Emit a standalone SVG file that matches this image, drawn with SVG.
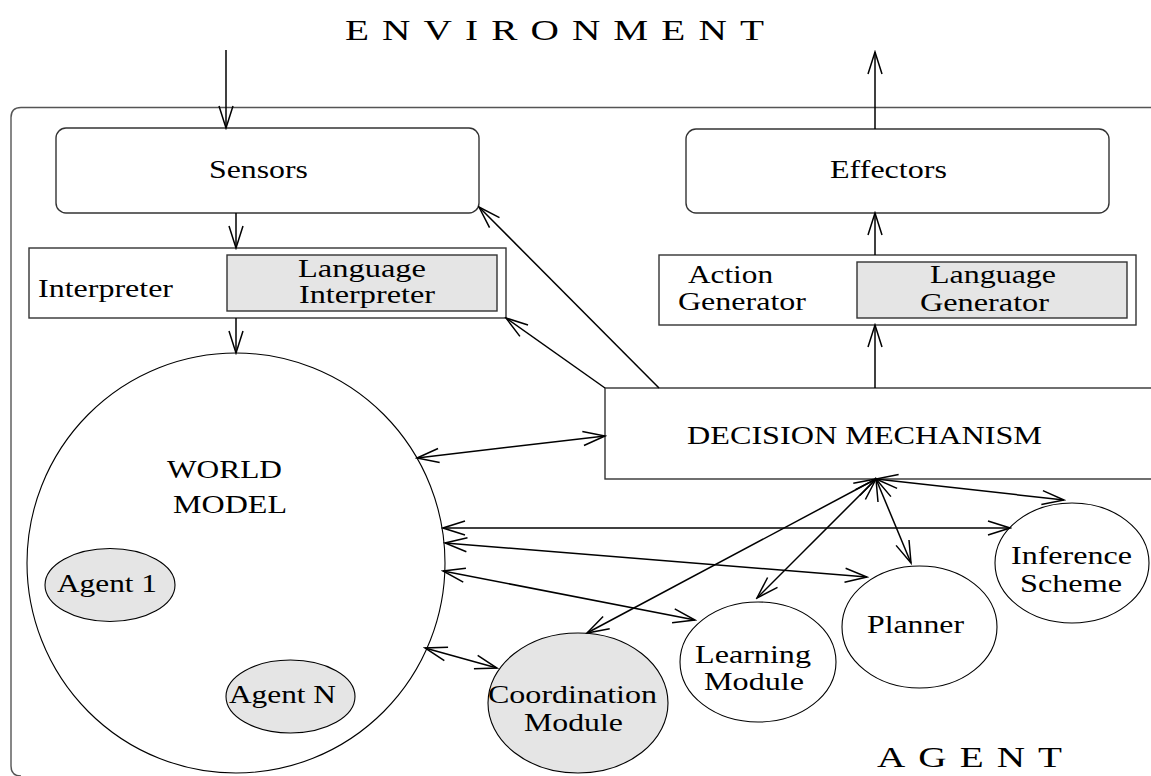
<svg xmlns="http://www.w3.org/2000/svg" width="1151" height="776" viewBox="0 0 1151 776">
<style>
text{font-family:"Liberation Serif","Times New Roman","DejaVu Serif",serif;font-size:25px;fill:#000}
.big{font-size:30px;letter-spacing:10px}
.box{fill:#fff;stroke:#333;stroke-width:1.4}
.gray{fill:#e5e5e5;stroke:#333;stroke-width:1.4}
.ell{fill:#fff;stroke:#000;stroke-width:1.1}
.gell{fill:#e5e5e5;stroke:#000;stroke-width:1.1}
.c{fill:none;stroke:#000;stroke-width:1.5}
</style>
<defs>
<marker id="ah" viewBox="-24 -9 26 18" refX="0" refY="0" markerWidth="26" markerHeight="18" markerUnits="userSpaceOnUse" orient="auto-start-reverse">
<path d="M-22,-7 L0,0 L-22,7" fill="none" stroke="#000" stroke-width="1.5"/>
</marker>
</defs>
<rect width="1151" height="776" fill="#fff"/>
<g id="environment-label"><text class="big" x="345" y="40" textLength="432" lengthAdjust="spacingAndGlyphs" font-family="Liberation Serif">ENVIRONMENT</text></g>
<g id="agent-frame">
<path d="M1160,107.5 H21 Q11,107.5 11,117.5 V766 Q11,776 21,776" fill="none" stroke="#555" stroke-width="1.4"/>
<text class="big" x="877" y="767" textLength="198" lengthAdjust="spacingAndGlyphs" font-family="Liberation Serif">AGENT</text>
</g>
<g id="sensors">
<rect class="box" x="56" y="128" width="423" height="85" rx="10"/>
<text x="209" y="178" textLength="99" lengthAdjust="spacingAndGlyphs">Sensors</text>
</g>
<g id="effectors">
<rect class="box" x="686" y="129" width="423" height="84" rx="10"/>
<text x="830" y="178" textLength="117" lengthAdjust="spacingAndGlyphs">Effectors</text>
</g>
<g id="interpreter">
<rect class="box" x="29" y="248" width="477" height="70"/>
<text x="38" y="297" textLength="135" lengthAdjust="spacingAndGlyphs">Interpreter</text>
</g>
<g id="language-interpreter">
<rect class="gray" x="227" y="255" width="270" height="56"/>
<text x="298" y="277" textLength="128" lengthAdjust="spacingAndGlyphs">Language</text>
<text x="299" y="303" textLength="136" lengthAdjust="spacingAndGlyphs">Interpreter</text>
</g>
<g id="action-generator">
<rect class="box" x="659" y="255" width="477" height="70"/>
<text x="688" y="283" textLength="85" lengthAdjust="spacingAndGlyphs">Action</text>
<text x="678" y="310" textLength="128" lengthAdjust="spacingAndGlyphs">Generator</text>
</g>
<g id="language-generator">
<rect class="gray" x="857" y="262" width="270" height="56"/>
<text x="930" y="283" textLength="126" lengthAdjust="spacingAndGlyphs">Language</text>
<text x="920" y="311" textLength="129" lengthAdjust="spacingAndGlyphs">Generator</text>
</g>
<g id="decision-mechanism">
<rect class="box" x="605" y="388" width="560" height="91"/>
<text x="687" y="444" textLength="355" lengthAdjust="spacingAndGlyphs">DECISION MECHANISM</text>
</g>
<g id="world-model">
<ellipse class="ell" cx="236" cy="563" rx="209" ry="210"/>
<text x="167" y="478" textLength="115" lengthAdjust="spacingAndGlyphs">WORLD</text>
<text x="173" y="513" textLength="114" lengthAdjust="spacingAndGlyphs">MODEL</text>
</g>
<g id="agent-1">
<ellipse class="gell" cx="110" cy="585" rx="65" ry="36.5"/>
<text x="57" y="592" textLength="100" lengthAdjust="spacingAndGlyphs">Agent 1</text>
</g>
<g id="agent-n">
<ellipse class="gell" cx="290.5" cy="696.5" rx="64.5" ry="36.5"/>
<text x="229" y="703" textLength="107" lengthAdjust="spacingAndGlyphs">Agent N</text>
</g>
<g id="coordination-module">
<ellipse class="gell" cx="578" cy="703" rx="90" ry="70"/>
<text x="488" y="703" textLength="169" lengthAdjust="spacingAndGlyphs">Coordination</text>
<text x="524" y="731" textLength="99" lengthAdjust="spacingAndGlyphs">Module</text>
</g>
<g id="learning-module">
<ellipse class="ell" cx="758" cy="662" rx="78" ry="60"/>
<text x="695" y="663" textLength="116" lengthAdjust="spacingAndGlyphs">Learning</text>
<text x="704" y="690" textLength="100" lengthAdjust="spacingAndGlyphs">Module</text>
</g>
<g id="planner">
<ellipse class="ell" cx="919.5" cy="627" rx="77.5" ry="61"/>
<text x="867" y="633" textLength="97" lengthAdjust="spacingAndGlyphs">Planner</text>
</g>
<g id="inference-scheme">
<ellipse class="ell" cx="1072" cy="563" rx="77" ry="60"/>
<text x="1011" y="564" textLength="121" lengthAdjust="spacingAndGlyphs">Inference</text>
<text x="1020" y="592" textLength="102" lengthAdjust="spacingAndGlyphs">Scheme</text>
</g>
<g id="connectors" class="c">
<line class="c" x1="226" y1="50" x2="226" y2="128" marker-end="url(#ah)"/>
<line class="c" x1="875" y1="129" x2="875" y2="52" marker-end="url(#ah)"/>
<line class="c" x1="236" y1="213" x2="236" y2="248" marker-end="url(#ah)"/>
<line class="c" x1="236" y1="318" x2="236" y2="353" marker-end="url(#ah)"/>
<line class="c" x1="875" y1="255" x2="875" y2="213" marker-end="url(#ah)"/>
<line class="c" x1="875" y1="388" x2="875" y2="325" marker-end="url(#ah)"/>
<line class="c" x1="659" y1="388" x2="479" y2="207" marker-end="url(#ah)"/>
<line class="c" x1="605" y1="388" x2="506" y2="318" marker-end="url(#ah)"/>
<line class="c" x1="417" y1="458" x2="605" y2="436" marker-start="url(#ah)" marker-end="url(#ah)"/>
<line class="c" x1="443" y1="528" x2="1010" y2="528" marker-start="url(#ah)" marker-end="url(#ah)"/>
<line class="c" x1="445" y1="543" x2="867" y2="577" marker-start="url(#ah)" marker-end="url(#ah)"/>
<line class="c" x1="443" y1="571" x2="695" y2="620" marker-start="url(#ah)" marker-end="url(#ah)"/>
<line class="c" x1="425" y1="648" x2="497" y2="668" marker-start="url(#ah)" marker-end="url(#ah)"/>
<line class="c" x1="876" y1="479" x2="1064" y2="500" marker-start="url(#ah)" marker-end="url(#ah)"/>
<line class="c" x1="876" y1="479" x2="911" y2="563" marker-start="url(#ah)" marker-end="url(#ah)"/>
<line class="c" x1="876" y1="479" x2="757" y2="598" marker-start="url(#ah)" marker-end="url(#ah)"/>
<line class="c" x1="876" y1="479" x2="587" y2="633" marker-start="url(#ah)" marker-end="url(#ah)"/>
</g>
</svg>
